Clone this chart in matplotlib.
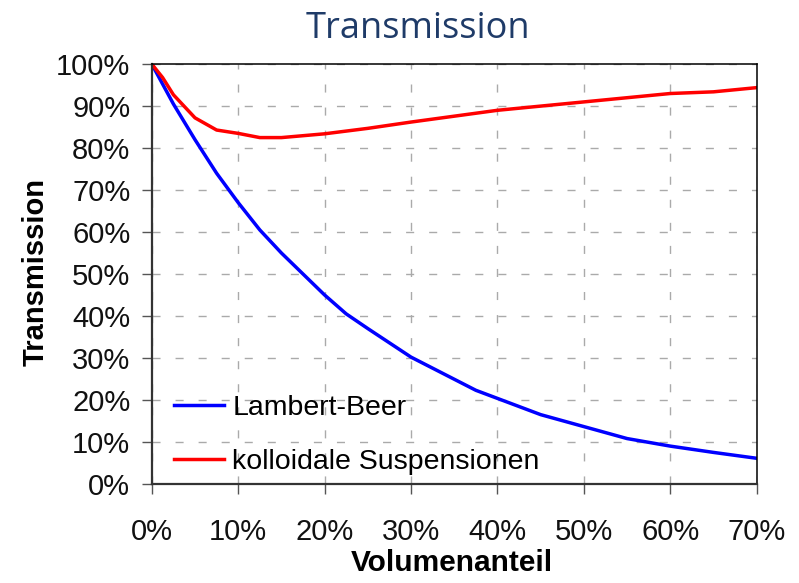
import matplotlib
matplotlib.use("Agg")
import matplotlib.pyplot as plt
from matplotlib.ticker import FuncFormatter, MultipleLocator

# Data (volume fraction in %, transmission in %)
lb_x = [0, 2.5, 5, 7.5, 10, 12.5, 15, 17.5, 20, 22.5, 25, 30, 37.5, 45, 55, 60, 65, 70]
lb_y = [100, 90.5, 82, 74, 67, 60.5, 55, 50, 45, 40.5, 37, 30.2, 22.3, 16.5, 10.8, 9, 7.5, 6.1]

ks_x = [0, 1.25, 2.5, 5, 7.5, 10, 12.5, 15, 20, 25, 30, 40, 50, 60, 65, 70]
ks_y = [100, 96.8, 92.7, 87.2, 84.3, 83.5, 82.5, 82.5, 83.4, 84.7, 86.2, 89.0, 91.0, 93.0, 93.4, 94.4]

series_labels = ["Lambert-Beer", "kolloidale Suspensionen"]
title = "Transmission"
xlabel = "Volumenanteil"
ylabel = "Transmission"

plt.rcParams['font.family'] = ['Liberation Sans', 'DejaVu Sans']

fig = plt.figure(figsize=(7.99, 5.83), dpi=100)
ax = fig.add_axes([0.190, 0.170, 0.757, 0.720])

ax.plot(lb_x, lb_y, color='#0000FF', lw=2.5, label=series_labels[0], solid_joinstyle='round')
ax.plot(ks_x, ks_y, color='#FF0000', lw=2.5, label=series_labels[1], solid_joinstyle='round')

ax.set_xlim(0, 70)
ax.set_ylim(0, 100)
ax.xaxis.set_major_locator(MultipleLocator(10))
ax.yaxis.set_major_locator(MultipleLocator(10))
pct = FuncFormatter(lambda v, p: f"{v:.0f}%")
ax.xaxis.set_major_formatter(pct)
ax.yaxis.set_major_formatter(pct)

ax.grid(True, color='#aaaaaa', lw=1.0, dashes=(5.8, 10.8))
ax.set_axisbelow(True)

for s in ['left', 'bottom']:
    ax.spines[s].set_color('#333333')
    ax.spines[s].set_linewidth(1.6)
for s in ['top', 'right']:
    ax.spines[s].set_color('#000000')
    ax.spines[s].set_linewidth(1.1)

ax.tick_params(axis='both', length=7.5, width=1.0, color='#555555', labelsize=21, labelcolor='#111111')
ax.tick_params(axis='y', pad=8)
ax.tick_params(axis='x', pad=17)

leg = ax.legend(loc='lower left', bbox_to_anchor=(-0.005, -0.04), frameon=False, fontsize=20.5,
                handlelength=1.75, handletextpad=0.28, labelspacing=0.98)

fig.text(0.523, 0.935, title, ha='center', va='baseline', fontsize=26,
         color='#1F3B68', family=['Open Sans', 'DejaVu Sans'])
fig.text(0.565, 0.034, xlabel, ha='center', va='center', fontsize=21.5, fontweight='bold')
fig.text(0.044, 0.533, ylabel, ha='center', va='center', fontsize=21, fontweight='bold', rotation=90)

fig.savefig('out.png', dpi=100)
